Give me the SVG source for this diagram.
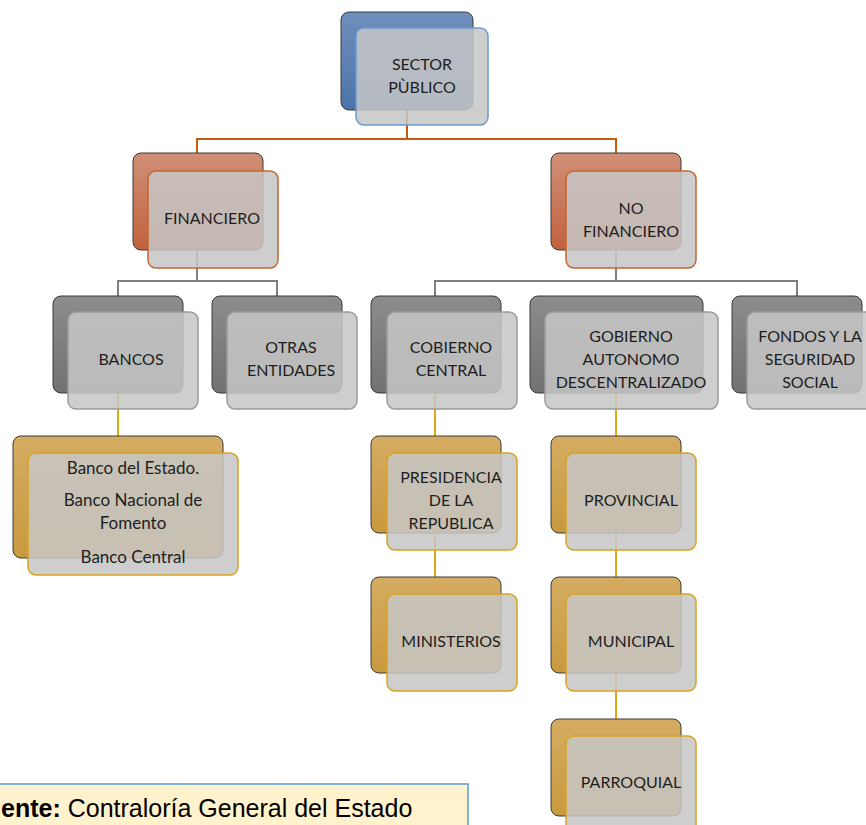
<svg xmlns="http://www.w3.org/2000/svg" width="866" height="825" viewBox="0 0 866 825">
<defs>
<linearGradient id="gBlue" x1="0" y1="0" x2="0" y2="1"><stop offset="0" stop-color="#6f8fbd"/><stop offset="1" stop-color="#4d74a8"/></linearGradient>
<linearGradient id="gOrange" x1="0" y1="0" x2="0" y2="1"><stop offset="0" stop-color="#cf8f76"/><stop offset="1" stop-color="#c2623d"/></linearGradient>
<linearGradient id="gGray" x1="0" y1="0" x2="0" y2="1"><stop offset="0" stop-color="#8c8c8c"/><stop offset="1" stop-color="#727272"/></linearGradient>
<linearGradient id="gGold" x1="0" y1="0" x2="0" y2="1"><stop offset="0" stop-color="#d4ac62"/><stop offset="1" stop-color="#c9993f"/></linearGradient>
<style>
.back{stroke:#3a3a3a;stroke-width:1}
.b-blue{fill:url(#gBlue)}
.b-orange{fill:url(#gOrange)}
.b-gray{fill:url(#gGray)}
.b-gold{fill:url(#gGold)}
.front{fill:#c6c6c6;fill-opacity:0.86;stroke-width:1.5}
.f-blue{stroke:#6a9bd0}
.f-orange{stroke:#c8642e}
.f-gray{stroke:#9a9a9a}
.f-gold{stroke:#d9a21f}
.lbl{font-family:Lato,"Liberation Sans",sans-serif;font-size:16px;fill:#1e1e1e;text-anchor:middle}
.big{font-size:17px}
.c-orange{stroke:#c55a11;stroke-width:2;fill:none}
.c-gray{stroke:#7f7f7f;stroke-width:2;fill:none}
.c-gold{stroke:#e0a818;stroke-width:2;fill:none}
</style>
</defs>
<rect width="866" height="825" fill="#ffffff"/>
<g id="connectors">
<path class="c-orange" d="M407 110 V139 M197 153 V139 H616 V153"/>
<path class="c-gray" d="M197 250 V281 M118 296 V281 H277 V296"/>
<path class="c-gray" d="M616 250 V281 M435 296 V281 H797 V296"/>
<path class="c-gold" d="M118 393 V436"/>
<path class="c-gold" d="M435 393 V436 M435 533 V577"/>
<path class="c-gold" d="M616 393 V436 M616 533 V577 M616 673 V719"/>
</g>
<g id="sector-publico">
<rect class="back b-blue" x="341" y="12" width="132" height="98" rx="8"/>
<rect class="front f-blue" x="356" y="28" width="132" height="97" rx="8"/>
<text class="lbl" x="422" y="70">SECTOR</text>
<text class="lbl" x="422" y="93">PÙBLICO</text>
</g>
<g id="financiero">
<rect class="back b-orange" x="133" y="153" width="130" height="97" rx="8"/>
<rect class="front f-orange" x="148" y="171" width="130" height="97" rx="8"/>
<text class="lbl" x="212" y="224">FINANCIERO</text>
</g>
<g id="no-financiero">
<rect class="back b-orange" x="551" y="153" width="130" height="97" rx="8"/>
<rect class="front f-orange" x="566" y="171" width="130" height="97" rx="8"/>
<text class="lbl" x="631" y="214">NO</text>
<text class="lbl" x="631" y="237">FINANCIERO</text>
</g>
<g id="bancos">
<rect class="back b-gray" x="53" y="296" width="130" height="97" rx="8"/>
<rect class="front f-gray" x="68" y="312" width="130" height="97" rx="8"/>
<text class="lbl" x="131" y="365">BANCOS</text>
</g>
<g id="otras-entidades">
<rect class="back b-gray" x="212" y="296" width="130" height="97" rx="8"/>
<rect class="front f-gray" x="227" y="312" width="130" height="97" rx="8"/>
<text class="lbl" x="291" y="353">OTRAS</text>
<text class="lbl" x="291" y="376">ENTIDADES</text>
</g>
<g id="cobierno-central">
<rect class="back b-gray" x="371" y="296" width="130" height="97" rx="8"/>
<rect class="front f-gray" x="387" y="312" width="130" height="97" rx="8"/>
<text class="lbl" x="451" y="353">COBIERNO</text>
<text class="lbl" x="451" y="376">CENTRAL</text>
</g>
<g id="gobierno-autonomo">
<rect class="back b-gray" x="530" y="296" width="173" height="97" rx="8"/>
<rect class="front f-gray" x="545" y="312" width="173" height="97" rx="8"/>
<text class="lbl" x="631" y="342">GOBIERNO</text>
<text class="lbl" x="631" y="365">AUTONOMO</text>
<text class="lbl" x="631" y="388">DESCENTRALIZADO</text>
</g>
<g id="fondos">
<rect class="back b-gray" x="732" y="296" width="130" height="97" rx="8"/>
<rect class="front f-gray" x="747" y="312" width="130" height="97" rx="8"/>
<text class="lbl" x="810" y="342">FONDOS Y LA</text>
<text class="lbl" x="810" y="365">SEGURIDAD</text>
<text class="lbl" x="810" y="388">SOCIAL</text>
</g>
<g id="bancos-lista">
<rect class="back b-gold" x="13" y="436" width="210" height="122" rx="8"/>
<rect class="front f-gold" x="28" y="453" width="210" height="122" rx="8"/>
<text class="lbl big" x="133" y="474">Banco del Estado.</text>
<text class="lbl big" x="133" y="506">Banco Nacional de</text>
<text class="lbl big" x="133" y="529">Fomento</text>
<text class="lbl big" x="133" y="563">Banco Central</text>
</g>
<g id="presidencia">
<rect class="back b-gold" x="371" y="436" width="130" height="97" rx="8"/>
<rect class="front f-gold" x="387" y="453" width="130" height="97" rx="8"/>
<text class="lbl" x="451" y="483">PRESIDENCIA</text>
<text class="lbl" x="451" y="506">DE LA</text>
<text class="lbl" x="451" y="529">REPUBLICA</text>
</g>
<g id="ministerios">
<rect class="back b-gold" x="371" y="577" width="130" height="96" rx="8"/>
<rect class="front f-gold" x="387" y="594" width="130" height="97" rx="8"/>
<text class="lbl" x="451" y="647">MINISTERIOS</text>
</g>
<g id="provincial">
<rect class="back b-gold" x="551" y="436" width="130" height="97" rx="8"/>
<rect class="front f-gold" x="566" y="453" width="130" height="97" rx="8"/>
<text class="lbl" x="631" y="506">PROVINCIAL</text>
</g>
<g id="municipal">
<rect class="back b-gold" x="551" y="577" width="130" height="96" rx="8"/>
<rect class="front f-gold" x="566" y="594" width="130" height="97" rx="8"/>
<text class="lbl" x="631" y="647">MUNICIPAL</text>
</g>
<g id="parroquial">
<rect class="back b-gold" x="551" y="719" width="130" height="97" rx="8"/>
<rect class="front f-gold" x="566" y="736" width="130" height="97" rx="8"/>
<text class="lbl" x="631" y="788">PARROQUIAL</text>
</g>
<g id="fuente">
<rect x="-2" y="784" width="470" height="45" fill="#fff2cc" stroke="#5b9bd5" stroke-width="1.5"/>
<text x="1" y="817" font-family="'Liberation Sans',Arial,sans-serif" font-size="25" fill="#000"><tspan font-weight="bold">ente:</tspan> Contraloría General del Estado</text>
</g>
</svg>
